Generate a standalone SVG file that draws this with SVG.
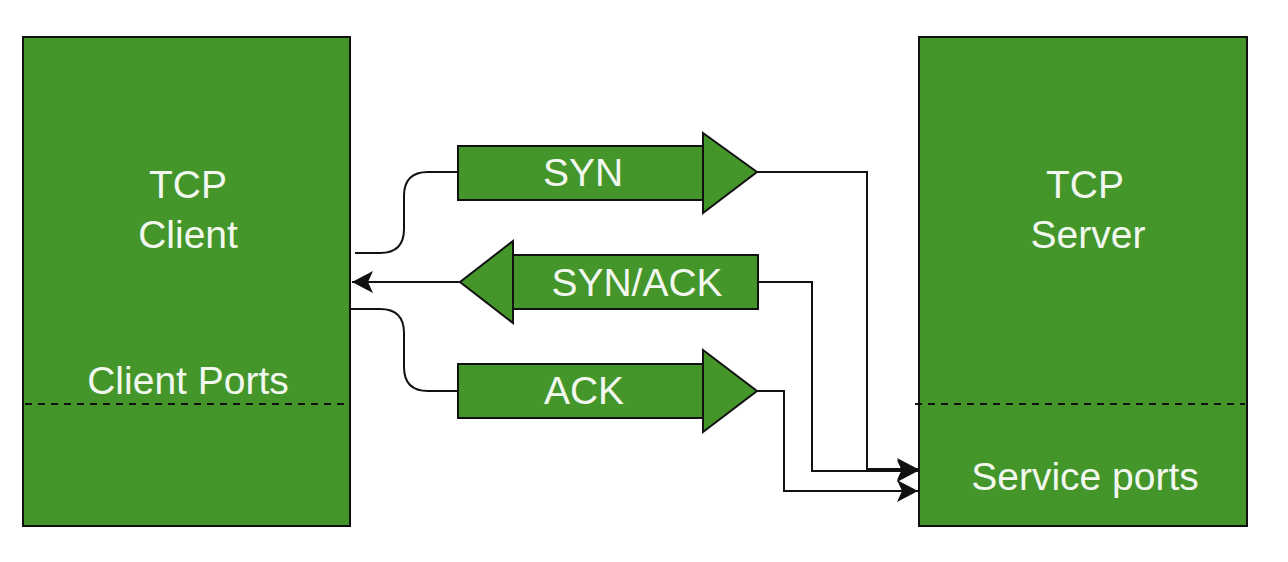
<svg xmlns="http://www.w3.org/2000/svg" width="1288" height="562" viewBox="0 0 1288 562">
<style>
.box{fill:#44962B;stroke:#111;stroke-width:2}
.lbl{fill:#f2f8ef;font-family:"Liberation Sans",Arial,sans-serif;font-size:39px;text-anchor:middle}
.dash{stroke:#111;stroke-width:2;stroke-dasharray:7 6;fill:none}
.conn{fill:none;stroke:#111;stroke-width:2}
</style>
<defs>
<marker id="arr" markerUnits="userSpaceOnUse" markerWidth="22" markerHeight="24" viewBox="0 0 22 24" refX="21" refY="12" orient="auto">
<path d="M0,1 L21,12 L0,23 L5,12 Z" fill="#111"/>
</marker>
</defs>
<rect width="1288" height="562" fill="#fff"/>
<g id="client">
<rect class="box" x="23" y="37" width="327" height="489"/>
<line class="dash" x1="25" y1="404" x2="345" y2="404"/>
<text class="lbl" x="188" y="198">TCP</text>
<text class="lbl" x="188" y="248">Client</text>
<text class="lbl" x="188" y="394">Client Ports</text>
</g>
<g id="server">
<rect class="box" x="919" y="37" width="328" height="489"/>
<line class="dash" x1="915" y1="404" x2="1245" y2="404"/>
<text class="lbl" x="1085" y="198">TCP</text>
<text class="lbl" x="1088" y="248">Server</text>
<text class="lbl" x="1085" y="490">Service ports</text>
</g>
<g id="syn">
<rect class="box" x="458" y="146" width="245" height="54"/>
<polygon class="box" points="703,133 757,172 703,213"/>
<text class="lbl" x="583" y="186">SYN</text>
</g>
<g id="synack">
<rect class="box" x="513" y="255" width="245" height="54"/>
<polygon class="box" points="513,241 460,282 513,323"/>
<text class="lbl" x="637" y="296">SYN/ACK</text>
</g>
<g id="ack">
<rect class="box" x="458" y="364" width="245" height="54"/>
<polygon class="box" points="703,350 757,391 703,432"/>
<text class="lbl" x="584" y="404">ACK</text>
</g>
<g id="connectors">
<path class="conn" d="M355,253 H380 Q404,253 404,229 V196 Q404,172 428,172 H458"/>
<path class="conn" d="M460,282 H352" marker-end="url(#arr)"/>
<path class="conn" d="M351,309 H380 Q404,309 404,333 V367 Q404,391 428,391 H458"/>
<path class="conn" d="M757,172 H867 V469 H918" marker-end="url(#arr)"/>
<path class="conn" d="M758,282 H812 V471 H918" marker-end="url(#arr)"/>
<path class="conn" d="M757,391 H784 V491 H918" marker-end="url(#arr)"/>
</g>
</svg>
